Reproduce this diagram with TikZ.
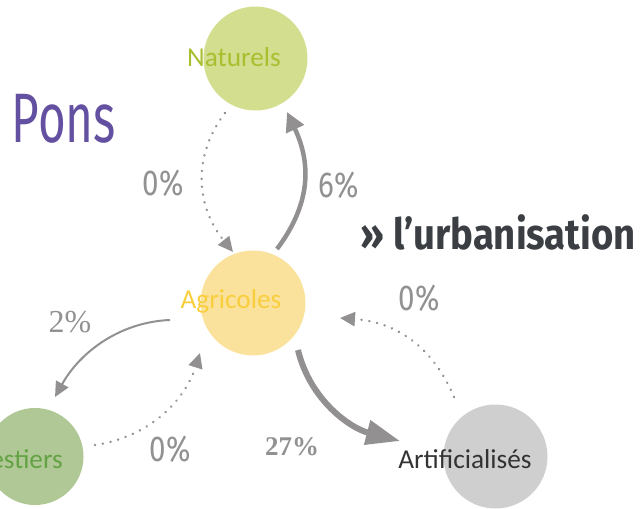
\documentclass[tikz,border=0pt]{standalone}
\usepackage{fontspec}
\setmainfont{Carlito}
\newfontfamily\dinfont[FakeStretch=0.82]{Fira Sans}
\newfontfamily\ponsfont[FakeStretch=0.68]{Fira Sans}
\newfontfamily\urbfont[FakeStretch=0.89]{Fira Sans}
\newfontfamily\serifnum{Liberation Serif}
\usetikzlibrary{arrows.meta}
\definecolor{flow}{HTML}{929091}
\definecolor{natfill}{HTML}{D3DE8F}
\definecolor{nattext}{HTML}{A9BF2F}
\definecolor{agrfill}{HTML}{FAE29C}
\definecolor{agrtext}{HTML}{F9CE3C}
\definecolor{forfill}{HTML}{AFC895}
\definecolor{fortext}{HTML}{64A245}
\definecolor{artfill}{HTML}{CFCFCF}
\definecolor{arttext}{HTML}{333333}
\definecolor{pons}{HTML}{6450A0}
\definecolor{urb}{HTML}{3B3F44}
\tikzset{
  zone/.style={circle,inner sep=0pt,minimum size=#1},
  zonetext/.style={inner sep=0pt,font=\fontsize{27.3}{27.3}\selectfont},
  pct/.style={inner sep=0pt,text=flow,font=\dinfont\fontsize{36}{36}\selectfont},
  pctserif/.style={inner sep=0pt,text=flow,font=\serifnum\fontsize{32}{32}\selectfont},
  dots/.style={draw=flow,line width=2.6pt,line cap=round,dash pattern=on 0.1pt off 7.8pt,-{Triangle[length=15pt,width=14pt,fill=flow]}},
  flowline/.style={draw=flow,line width=#1},
}
\begin{document}
\begin{tikzpicture}[x=1pt,y=-1pt]
\useasboundingbox (0,0) rectangle (641,509);
\node[zone=104pt,fill=natfill] (nat) at (255.5,58.5) {};
\node[zone=105pt,fill=agrfill] (agr) at (253,303) {};
\node[zone=97pt,fill=forfill] (for) at (35,456.5) {};
\node[zone=104pt,fill=artfill] (art) at (495.5,456.5) {};
\node[zonetext,text=nattext] (natlabel) at (234,57) {Naturels};
\node[zonetext,text=agrtext] (agrlabel) at (231,301) {Agricoles};
\node[zonetext,text=fortext,anchor=east] (forlabel) at (63,459) {Forestiers};
\node[zonetext,text=arttext] (artlabel) at (465,459) {Artificialisés};
\coordinate (a1) at (225,113); \coordinate (a2) at (233,252);
\coordinate (b1) at (277,249); \coordinate (b2) at (287,112);
\coordinate (c1) at (170,320); \coordinate (c2) at (55,397);
\coordinate (d1) at (95,445);  \coordinate (d2) at (200,353);
\coordinate (e1) at (298,350); \coordinate (e2) at (400,441);
\coordinate (f1) at (454,397); \coordinate (f2) at (340,318);
\draw[dots] (a1) .. controls (193,155) and (195,205) .. (a2);
\draw[flowline=4.5pt,-{Triangle[length=19pt,width=19pt,fill=flow]}] (b1) .. controls (310,205) and (312,165) .. (b2);
\draw[flowline=2pt,-{Triangle[length=15pt,width=14pt,fill=flow]}] (c1) .. controls (120,322) and (80,352) .. (c2);
\draw[dots] (d1) .. controls (150,437) and (185,400) .. (d2);
\draw[flowline=6pt,-{Triangle[length=34pt,width=24pt,fill=flow]}] (e1) .. controls (310,400) and (350,428) .. (e2);
\draw[dots] (f1) .. controls (432,345) and (395,322) .. (f2);
\node[pct] (p1) at (163,183) {0\%};
\node[pct] (p2) at (339,185) {6\%};
\node[pctserif] (p3) at (70,322) {2\%};
\node[pct] (p4) at (170,449) {0\%};
\node[pctserif,font=\serifnum\bfseries\fontsize{27}{27}\selectfont] (p5) at (292,447) {27\%};
\node[pct] (p6) at (419,298) {0\%};
\node[inner sep=0pt,text=pons,font=\ponsfont\fontsize{70}{70}\selectfont] (title) at (64,119) {Pons};
\node[inner sep=0pt,anchor=west,text=urb,font=\urbfont\bfseries\fontsize{43}{43}\selectfont] (urban) at (360,232) {» l’urbanisation};
\end{tikzpicture}
\end{document}
